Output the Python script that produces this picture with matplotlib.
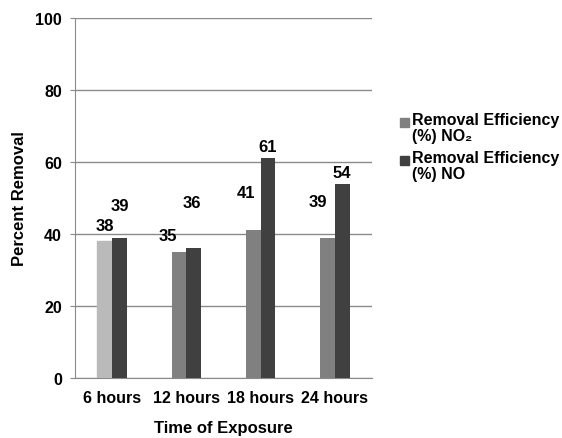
import numpy as np
import matplotlib
matplotlib.use('Agg')
import matplotlib.pyplot as plt
from matplotlib.patches import Rectangle

plt.rcParams['font.family'] = ['Liberation Sans', 'DejaVu Sans']
plt.rcParams['font.weight'] = 'bold'

hours = ['6 hours', '12 hours', '18 hours', '24 hours']
no2 = [38, 35, 41, 39]
no = [39, 36, 61, 54]
series_names = ['Removal Efficiency\n(%) NO\u2082', 'Removal Efficiency\n(%) NO']

# hand-placed value labels: (dx, dy) in points from bar top centre to baseline
no2_offsets = [(0, 8), (-8, 8.5), (-5.5, 24), (-7, 23)]
no_offsets = [(0.5, 20), (-1, 30), (0, 5.5), (0, 5)]

c_no2 = '#808080'
c_no2_first = '#bababa'
c_no = '#404040'
c_grid = '#8a8a8a'

fig = plt.figure(figsize=(5.62, 4.39), dpi=100)
ax = fig.add_axes([75 / 562, 60 / 439, 297 / 562, 360 / 439])

x = np.arange(len(hours)) + 0.5
w = 0.197
b1 = ax.bar(x - w / 2, no2, w, color=c_no2, zorder=3)
b1[0].set_color(c_no2_first)
b2 = ax.bar(x + w / 2, no, w, color=c_no, zorder=3)

for bars, vals, offs in [(b1, no2, no2_offsets), (b2, no, no_offsets)]:
    for bar, v, (dx, dy) in zip(bars, vals, offs):
        ax.annotate(str(v), (bar.get_x() + bar.get_width() / 2, v),
                    xytext=(dx, dy), textcoords='offset points',
                    ha='center', va='baseline', fontsize=12, fontweight='bold')

ax.set_xlim(0, 4)
ax.set_ylim(0, 100)
ax.set_yticks([0, 20, 40, 60, 80, 100])
ax.set_xticks(x)
ax.set_xticklabels(hours)
ax.yaxis.grid(True, color=c_grid, linewidth=1, zorder=0)
ax.set_axisbelow(True)
for s in ['top', 'right']:
    ax.spines[s].set_visible(False)
for s in ['left', 'bottom']:
    ax.spines[s].set_color(c_grid)
ax.tick_params(axis='y', length=3.6, color=c_grid, labelsize=11.5, pad=5.8)
ax.tick_params(axis='x', length=0, labelsize=11.5, pad=8.6)

ax.set_ylabel('Percent Removal', fontsize=12, fontweight='bold')
ax.yaxis.set_label_coords(-0.162, 0.5)
ax.set_xlabel('Time of Exposure', fontsize=12, fontweight='bold')
ax.xaxis.set_label_coords(0.5, -0.117)

# legend: square aligned with the first line of each two-line entry
for i, (name, col) in enumerate(zip(series_names, [c_no2, c_no])):
    top = 119 + 38 * i
    fig.patches.append(Rectangle((400 / 562, 1 - (top + 9) / 439), 9 / 562, 9 / 439,
                                 transform=fig.transFigure, color=col))
    t = fig.text(412 / 562, 1 - (top - 6) / 439, name, ha='left', va='top',
                 fontsize=11.5, fontweight='bold')
    t.set_linespacing(1.08)

fig.savefig('out.png', dpi=100)
